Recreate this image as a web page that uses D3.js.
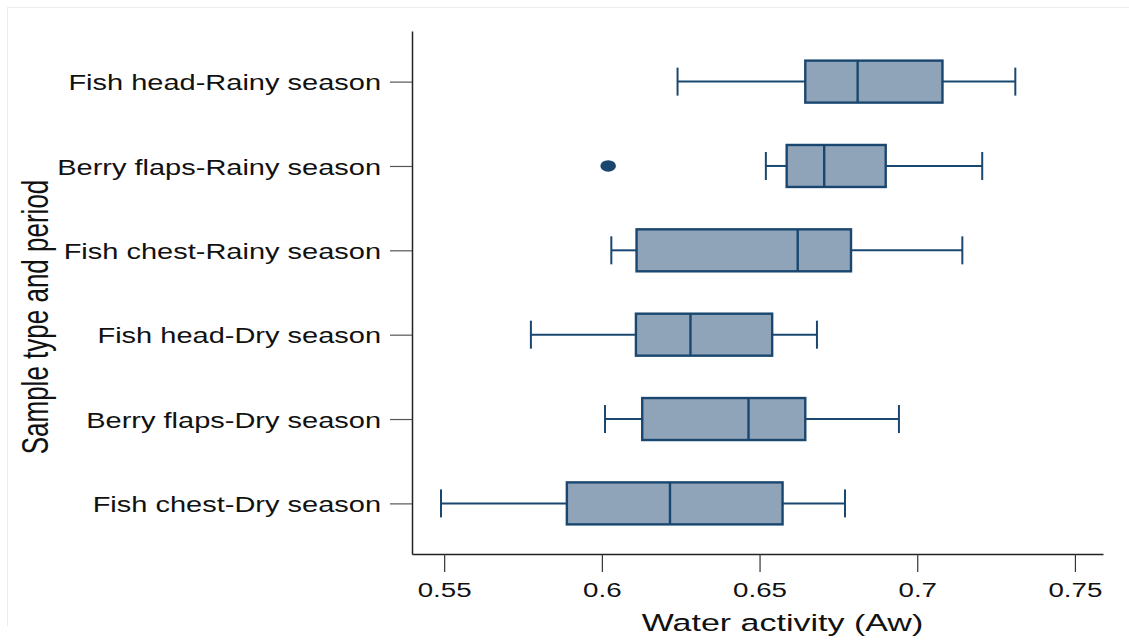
<!DOCTYPE html>
<html>
<head>
<meta charset="utf-8">
<script src="https://cdn.jsdelivr.net/npm/d3@7"></script>
<style>
  body { margin: 0; background: #fff; }
  text { font-family: "Liberation Sans", Arial, sans-serif; fill: #111; }
</style>
</head>
<body>
<div id="chart"></div>
<script>
// box plot of water activity by sample type and season

// categories, top to bottom
var categories = [
  "Fish head-Rainy season",
  "Berry flaps-Rainy season",
  "Fish chest-Rainy season",
  "Fish head-Dry season",
  "Berry flaps-Dry season",
  "Fish chest-Dry season"
];

// five-number summaries
var whiskerLow  = [0.624, 0.652, 0.603, 0.5775, 0.601, 0.549];
var q1          = [0.6645, 0.6586, 0.611, 0.6108, 0.6128, 0.5889];
var median      = [0.6811, 0.6705, 0.6621, 0.6281, 0.6465, 0.6216];
var q3          = [0.708, 0.690, 0.679, 0.654, 0.6645, 0.6573];
var whiskerHigh = [0.7311, 0.7206, 0.7143, 0.6682, 0.6942, 0.6771];

// outside values
var outlierCat = ["Berry flaps-Rainy season"];
var outlierVal = [0.602];

var xTicks = [0.55, 0.6, 0.65, 0.7, 0.75];

var width = 1129, height = 644;
var navy = "#1a476f";
var boxFill = "#8fa4b8";

var svg = d3.select("#chart")
  .append("svg")
  .attr("width", width)
  .attr("height", height);

// faint frame around the graph region
svg.append("line")
  .attr("x1", 7.5).attr("x2", 7.5).attr("y1", 7).attr("y2", 626)
  .attr("stroke", "#eaeeea").attr("stroke-width", 1);
svg.append("line")
  .attr("x1", 7).attr("x2", width).attr("y1", 7.5).attr("y2", 7.5)
  .attr("stroke", "#eaeeea").attr("stroke-width", 1);

var xScale = d3.scaleLinear()
  .domain([0.5398, 0.7589])
  .range([412, 1103]);

var yScale = d3.scalePoint()
  .domain(categories)
  .range([31, 554])
  .padding(0.6);

var rows = categories.map(function(c, i) {
  return { cat: c, lo: whiskerLow[i], q1: q1[i], med: median[i], q3: q3[i], hi: whiskerHigh[i] };
});

// axes
var xAxis = svg.append("g")
  .attr("transform", "translate(0,554)")
  .call(d3.axisBottom(xScale).tickValues(xTicks).tickFormat(d3.format("")).tickSize(18).tickSizeOuter(0));
xAxis.select(".domain").attr("stroke", "#222").attr("stroke-width", 1.5);
xAxis.selectAll(".tick line").attr("stroke", "#333").attr("stroke-width", 1.2);
xAxis.selectAll(".tick text")
  .attr("y", 42.7).attr("dy", 0)
  .attr("font-size", 21)
  .attr("fill", "#111")
  .attr("transform", "scale(1.32,1)");

var yAxis = svg.append("g")
  .attr("transform", "translate(412,0)")
  .call(d3.axisLeft(yScale).tickSize(22).tickPadding(10).tickSizeOuter(0));
yAxis.select(".domain").attr("stroke", "#222").attr("stroke-width", 1.5);
yAxis.selectAll(".tick line").attr("stroke", "#555").attr("stroke-width", 1.2);
yAxis.selectAll(".tick text")
  .attr("x", -31 / 1.3)
  .attr("dy", "0.37em")
  .attr("font-size", 22.3)
  .attr("fill", "#111")
  .attr("transform", "scale(1.3,1)");

// boxes
var boxH = 42, capH = 28;
var g = svg.append("g");

var rowG = g.selectAll(".row")
  .data(rows)
  .enter()
  .append("g")
  .attr("class", "row")
  .attr("transform", function(d) { return "translate(0," + yScale(d.cat) + ")"; });

// whiskers
rowG.append("line")
  .attr("x1", function(d) { return xScale(d.lo); })
  .attr("x2", function(d) { return xScale(d.q1); })
  .attr("stroke", navy).attr("stroke-width", 2);
rowG.append("line")
  .attr("x1", function(d) { return xScale(d.q3); })
  .attr("x2", function(d) { return xScale(d.hi); })
  .attr("stroke", navy).attr("stroke-width", 2);
rowG.append("line")
  .attr("x1", function(d) { return xScale(d.lo); })
  .attr("x2", function(d) { return xScale(d.lo); })
  .attr("y1", -capH / 2).attr("y2", capH / 2)
  .attr("stroke", navy).attr("stroke-width", 2);
rowG.append("line")
  .attr("x1", function(d) { return xScale(d.hi); })
  .attr("x2", function(d) { return xScale(d.hi); })
  .attr("y1", -capH / 2).attr("y2", capH / 2)
  .attr("stroke", navy).attr("stroke-width", 2);

// box
rowG.append("rect")
  .attr("x", function(d) { return xScale(d.q1); })
  .attr("width", function(d) { return xScale(d.q3) - xScale(d.q1); })
  .attr("y", -boxH / 2)
  .attr("height", boxH)
  .attr("fill", boxFill)
  .attr("stroke", navy)
  .attr("stroke-width", 2.4);

// median
rowG.append("line")
  .attr("x1", function(d) { return xScale(d.med); })
  .attr("x2", function(d) { return xScale(d.med); })
  .attr("y1", -boxH / 2).attr("y2", boxH / 2)
  .attr("stroke", navy).attr("stroke-width", 2.4);

// outliers
g.selectAll(".outlier")
  .data(outlierVal)
  .enter()
  .append("ellipse")
  .attr("class", "outlier")
  .attr("cx", function(d) { return xScale(d); })
  .attr("cy", function(d, i) { return yScale(outlierCat[i]); })
  .attr("rx", 7.8)
  .attr("ry", 5.8)
  .attr("fill", navy);

// axis titles
svg.append("text")
  .attr("transform", "translate(782.5,630.7) scale(1.4,1)")
  .attr("text-anchor", "middle")
  .attr("font-size", 24.3)
  .text("Water activity (Aw)");

svg.append("text")
  .attr("transform", "translate(48.3,317) rotate(-90) scale(1,1.43)")
  .attr("text-anchor", "middle")
  .attr("font-size", 26)
  .text("Sample type and period");
</script>
</body>
</html>
